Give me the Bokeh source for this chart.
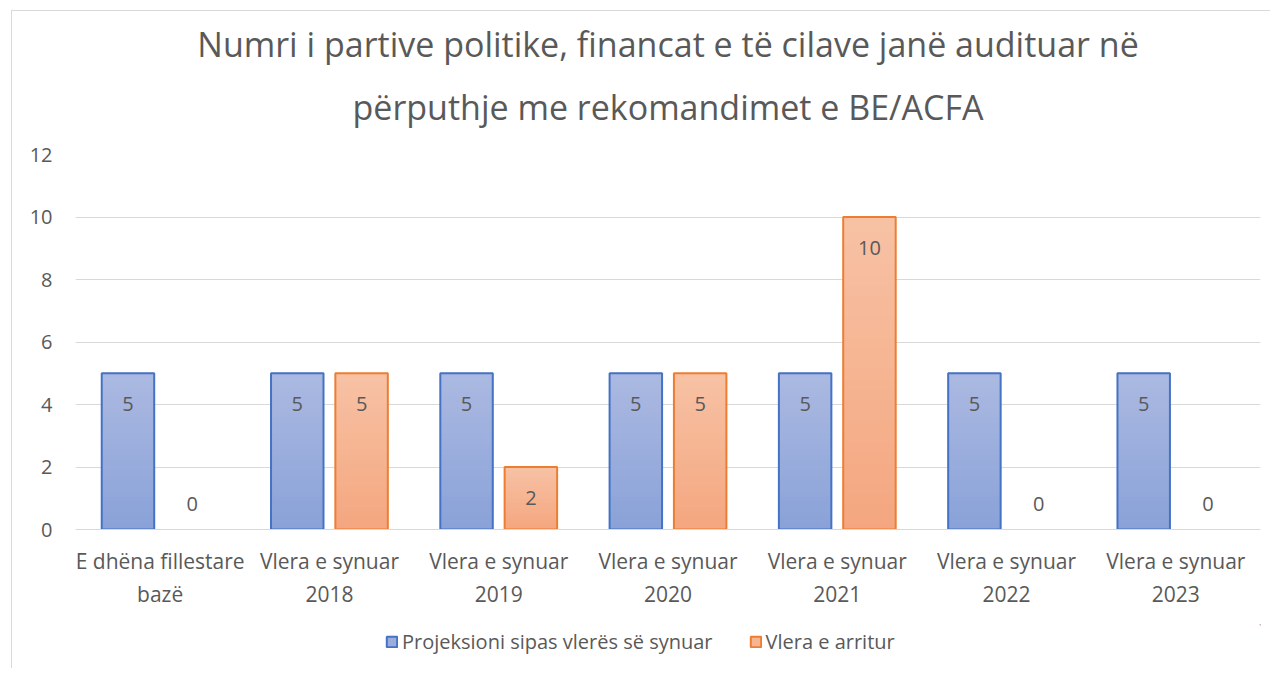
from bokeh.plotting import figure
from bokeh.layouts import column
from bokeh.models import ColumnDataSource, FactorRange, Legend, LegendItem, Range1d, FixedTicker, Title, Div
from bokeh.transform import dodge
from bokeh.core.properties import value
from bokeh.embed import file_html
from bokeh.resources import INLINE

# ---------------- data ----------------
categories = [
    "E dhëna fillestare\nbazë",
    "Vlera e synuar\n2018",
    "Vlera e synuar\n2019",
    "Vlera e synuar\n2020",
    "Vlera e synuar\n2021",
    "Vlera e synuar\n2022",
    "Vlera e synuar\n2023",
]
projeksioni = [5, 5, 5, 5, 5, 5, 5]
arritur = [0, 5, 2, 5, 10, 0, 0]
series_names = ["Projeksioni sipas vlerës së synuar", "Vlera e arritur"]
y_ticks = [0, 2, 4, 6, 8, 10, 12]
title_lines = ["Numri i partive politike, financat e të cilave janë audituar në",
               "përputhje me rekomandimet e BE/ACFA"]

# ---------------- styles ----------------
FONT = "Open Sans"
TXT = "#595959"
GRID = "#D9D9D9"
BLUE_LINE, BLUE_TOP, BLUE_BOT = "#4472C4", (0xAB, 0xB9, 0xE1), (0x89, 0xA1, 0xD8)
ORNG_LINE, ORNG_TOP, ORNG_BOT = "#ED7D31", (0xF7, 0xC1, 0xA4), (0xF4, 0xA6, 0x7E)
OFFSETS = [-0.19, 0.19]
BAR_W = 0.31
N_SLICES = 30
B_LEFT, B_RIGHT, B_TOP, B_BOTTOM = 63, 10, 143, 95
FRAME_W, FRAME_H = 1185, 375
TOTAL_W = B_LEFT + FRAME_W + B_RIGHT

p = figure(
    frame_width=FRAME_W, frame_height=FRAME_H,
    x_range=FactorRange(factors=categories, range_padding=0),
    y_range=Range1d(0, 12),
    output_backend="svg", toolbar_location=None,
    min_border_left=B_LEFT, min_border_right=B_RIGHT, min_border_top=B_TOP, min_border_bottom=B_BOTTOM,
)
p.outline_line_color = None
p.background_fill_color = "white"
p.border_fill_color = "white"

# two-line title: later-added title sits nearest to the frame
p.title.text = title_lines[0]
t2 = Title(text=title_lines[1])
for t in (p.title, t2):
    t.align = "center"
    t.text_font = FONT
    t.text_font_size = "34px"
    t.text_font_style = "normal"
    t.text_color = TXT
    t.offset = -21
p.title.standoff = -21
t2.standoff = 50
p.add_layout(t2, "above")

p.xgrid.grid_line_color = None
p.ygrid.grid_line_color = GRID
p.ygrid.grid_line_width = 1
p.yaxis.ticker = FixedTicker(ticks=y_ticks)
p.yaxis.axis_line_color = None
p.yaxis.major_tick_line_color = None
p.yaxis.minor_tick_line_color = None
p.yaxis.major_label_text_font = FONT
p.yaxis.major_label_text_font_size = "20px"
p.yaxis.major_label_text_color = TXT
p.yaxis.major_label_standoff = 17

p.xaxis.axis_line_color = GRID
p.xaxis.major_tick_line_color = None
p.xaxis.minor_tick_line_color = None
p.xaxis.major_label_text_font = FONT
p.xaxis.major_label_text_font_size = "21px"
p.xaxis.major_label_text_color = TXT
p.xaxis.major_label_standoff = 11


def mix(c_bot, c_top, t):
    return "#%02x%02x%02x" % tuple(int(round(b + (a - b) * t)) for a, b in zip(c_top, c_bot))


# legend figure below the chart
pl = figure(width=TOTAL_W, height=44, x_range=Range1d(0, 1), y_range=Range1d(0, 1),
            output_backend="svg", toolbar_location=None,
            min_border_left=0, min_border_right=0, min_border_top=0, min_border_bottom=0)
pl.axis.visible = False
pl.grid.visible = False
pl.outline_line_color = None
pl.background_fill_color = "white"
pl.border_fill_color = "white"

legend_items = []
series = [(projeksioni, BLUE_LINE, BLUE_TOP, BLUE_BOT), (arritur, ORNG_LINE, ORNG_TOP, ORNG_BOT)]
for si, (vals, line_c, c_top, c_bot) in enumerate(series):
    off = OFFSETS[si]
    mid = mix(c_bot, c_top, 0.5)
    nz_cats = [c for c, v in zip(categories, vals) if v > 0]
    nz_vals = [v for v in vals if v > 0]
    # vertical gradient fill: overlapping slices, darker at the bottom
    sc, sb, st, scol = [], [], [], []
    for c, v in zip(nz_cats, nz_vals):
        for k in range(N_SLICES):
            sc.append(c)
            sb.append(max(0.0, v * (k - 0.6) / N_SLICES))
            st.append(v * (k + 1) / N_SLICES)
            scol.append(mix(c_bot, c_top, (k + 0.5) / N_SLICES))
    p.vbar(x=dodge("cat", off, range=p.x_range), top="t", bottom="b", width=BAR_W,
           source=ColumnDataSource(dict(cat=sc, b=sb, t=st, col=scol)),
           fill_color="col", line_color=None)
    p.vbar(x=dodge("cat", off, range=p.x_range), top="v", bottom=0, width=BAR_W,
           source=ColumnDataSource(dict(cat=nz_cats, v=nz_vals)),
           fill_color=None, line_color=line_c, line_width=2)
    lbl_off = [31 if v > 0 else -26 for v in vals]
    p.text(x=dodge("cat", off, range=p.x_range), y="v", text="lbl", y_offset="yo",
           source=ColumnDataSource(dict(cat=categories, v=vals, lbl=[str(v) for v in vals], yo=lbl_off)),
           text_align="center", text_baseline="middle", text_font=value(FONT),
           text_font_size="20px", text_color=TXT)
    # legend swatch renderer: one point placed outside the visible legend area
    swatch = pl.vbar(x=[5], top=[5], bottom=[4], width=0.1,
                     fill_color=mid, line_color=line_c, line_width=2)
    legend_items.append(LegendItem(label=series_names[si], renderers=[swatch]))

legend = Legend(items=legend_items, orientation="horizontal", location=(310, 13),
                label_text_font=FONT, label_text_font_size="20px", label_text_color=TXT,
                glyph_width=13, glyph_height=13, label_standoff=4, spacing=36,
                border_line_color=None, background_fill_alpha=0, padding=0, margin=0)
pl.add_layout(legend, "center")

top_line = Div(text="", width=TOTAL_W, height=1, margin=0,
               styles={"background-color": GRID, "overflow": "hidden"})

layout = column(top_line, p, pl, spacing=0)
layout.margin = (10, 0, 0, 11)
layout.styles = {"border-left": "1px solid #D9D9D9"}

open("out.html", "w").write(file_html(layout, INLINE))
